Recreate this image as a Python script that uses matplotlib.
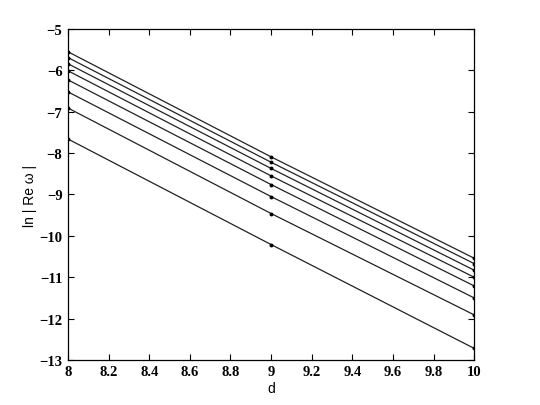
import matplotlib
matplotlib.use("Agg")
import matplotlib.pyplot as plt

d = [8, 9, 10]
series = [
    [-5.55, -8.09, -10.54],
    [-5.69, -8.22, -10.67],
    [-5.84, -8.37, -10.83],
    [-6.01, -8.55, -11.00],
    [-6.23, -8.76, -11.21],
    [-6.52, -9.05, -11.50],
    [-6.91, -9.46, -11.91],
    [-7.66, -10.21, -12.72],
]
xticks = [8, 8.2, 8.4, 8.6, 8.8, 9, 9.2, 9.4, 9.6, 9.8, 10]
xticklabels = ["8", "8.2", "8.4", "8.6", "8.8", "9", "9.2", "9.4", "9.6", "9.8", "10"]
yticks = [-13, -12, -11, -10, -9, -8, -7, -6, -5]
yticklabels = ["\u221213", "\u221212", "\u221211", "\u221210", "\u22129", "\u22128", "\u22127", "\u22126", "\u22125"]

fig = plt.figure(figsize=(5.4, 4.06), dpi=100)
ax = fig.add_axes([0.126, 0.111, 0.752, 0.815])
for s in series:
    ax.plot(d, s, color="#222222", lw=0.9, marker="o", ms=1.8, mfc="black", mec="black")

ax.set_xlim(8, 10)
ax.set_ylim(-13, -5)
ax.set_xticks(xticks)
ax.set_xticklabels(xticklabels, fontfamily="Liberation Serif", fontweight="bold", fontsize=10.5)
ax.set_yticks(yticks)
ax.set_yticklabels(yticklabels, fontfamily="Liberation Serif", fontweight="bold", fontsize=10.5)
ax.tick_params(direction="in", top=True, right=True, length=4, width=0.8, pad=4)
for sp in ax.spines.values():
    sp.set_linewidth(0.9)
ax.set_xlabel("d", fontfamily="Liberation Sans", fontsize=10, labelpad=2)
ax.set_ylabel("ln | Re \u03c9 |", fontfamily="Liberation Sans", fontsize=10, labelpad=2)

fig.savefig("out.png", dpi=100)
